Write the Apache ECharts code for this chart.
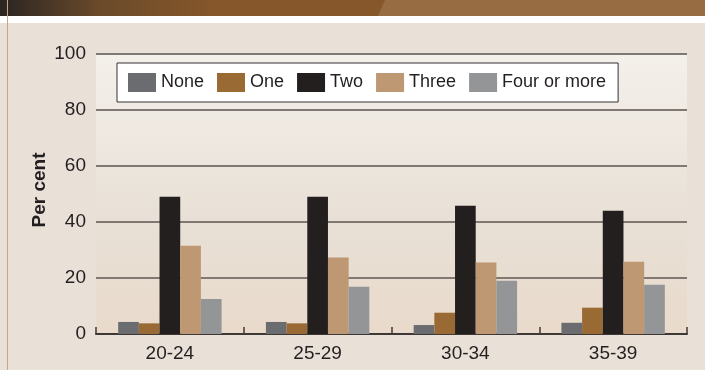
<!DOCTYPE html>
<html>
<head>
<meta charset="utf-8">
<script src="https://cdn.jsdelivr.net/npm/echarts@6/dist/echarts.min.js"></script>
<style>
  html, body { margin: 0; padding: 0; background: #e9e1d8; }
  #chart { width: 705px; height: 370px; }
</style>
</head>
<body>
<div id="chart"></div>
<script>
// 数据
const ageGroups = ['20-24', '25-29', '30-34', '35-39'];
const seriesNames = ['None', 'One', 'Two', 'Three', 'Four or more'];
const noneVals = [4.3, 4.3, 3.2, 4.0];
const oneVals = [3.8, 3.8, 7.6, 9.4];
const twoVals = [49, 49, 45.8, 44];
const threeVals = [31.5, 27.3, 25.5, 25.8];
const fourVals = [12.5, 16.9, 19, 17.6];
const yTicks = [0, 20, 40, 60, 80, 100];

const colors = ['#6b6c70', '#9a6a35', '#231f1e', '#bd9872', '#949597'];
const font = '"Liberation Sans Narrow", "Liberation Sans", Arial, sans-serif';

const chart = echarts.init(document.getElementById('chart'));

const allVals = [noneVals, oneVals, twoVals, threeVals, fourVals];

chart.setOption({
    backgroundColor: '#e9e1d8',
    animation: false,
    textStyle: { fontFamily: font },
    graphic: [
        // 顶部横幅
        {
            type: 'rect', left: 0, top: 0, z: 0,
            shape: { width: 705, height: 16 },
            style: {
                fill: new echarts.graphic.LinearGradient(0, 0, 1, 0, [
                    { offset: 0, color: '#2a2522' },
                    { offset: 0.14, color: '#6a4a2a' },
                    { offset: 0.3, color: '#85572a' },
                    { offset: 1, color: '#85572a' }
                ])
            }
        },
        {
            type: 'polygon', z: 1,
            shape: { points: [[385, 0], [705, 0], [705, 16], [378, 16]] },
            style: { fill: '#9c7248', opacity: 0.8 }
        },
        {
            type: 'rect', left: 0, top: 16, z: 0,
            shape: { width: 705, height: 7 },
            style: { fill: '#ffffff' }
        },
        {
            type: 'line', z: 2,
            shape: { x1: 7.5, y1: 0, x2: 7.5, y2: 370 },
            style: { stroke: '#c8a882', lineWidth: 1 }
        },
        // Y轴标题
        {
            type: 'text', z: 5,
            x: 40, y: 190, rotation: Math.PI / 2,
            style: {
                text: 'Per cent', fill: '#231f20',
                font: 'bold 19px ' + font,
                align: 'center', verticalAlign: 'middle'
            }
        }
    ],
    legend: {
        data: seriesNames,
        left: 117, top: 63,
        orient: 'horizontal',
        backgroundColor: '#ffffff',
        borderColor: '#333333',
        borderWidth: 1,
        borderRadius: 0,
        padding: [10, 12, 10, 11],
        itemWidth: 28, itemHeight: 19,
        itemGap: 13,
        icon: 'rect',
        textStyle: { fontSize: 18, color: '#231f20', fontFamily: font }
    },
    grid: {
        left: 96, right: 18, top: 54, bottom: 36,
        show: true,
        borderWidth: 0,
        backgroundColor: new echarts.graphic.LinearGradient(0, 0, 0, 1, [
            { offset: 0, color: '#f4f0ea' },
            { offset: 0.6, color: '#e8e0d6' },
            { offset: 1, color: '#e9dacb' }
        ])
    },
    xAxis: {
        type: 'category',
        data: ageGroups,
        axisLine: { lineStyle: { color: '#3e3836', width: 2 } },
        axisTick: { show: true, inside: true, length: 7, lineStyle: { color: '#3e3836', width: 1.5 } },
        axisLabel: { fontSize: 19, color: '#231f20', margin: 10, fontFamily: font }
    },
    yAxis: {
        type: 'value',
        min: yTicks[0], max: yTicks[yTicks.length - 1], interval: 20,
        axisLine: { show: false },
        axisTick: { show: false },
        splitLine: { lineStyle: { color: '#7f7873', width: 2 } },
        axisLabel: { fontSize: 19, color: '#231f20', margin: 10, fontFamily: font }
    },
    series: seriesNames.map((name, i) => ({
        name: name,
        type: 'bar',
        data: allVals[i],
        barGap: '0%',
        barCategoryGap: '30%',
        itemStyle: { color: colors[i] }
    }))
});
</script>
</body>
</html>
